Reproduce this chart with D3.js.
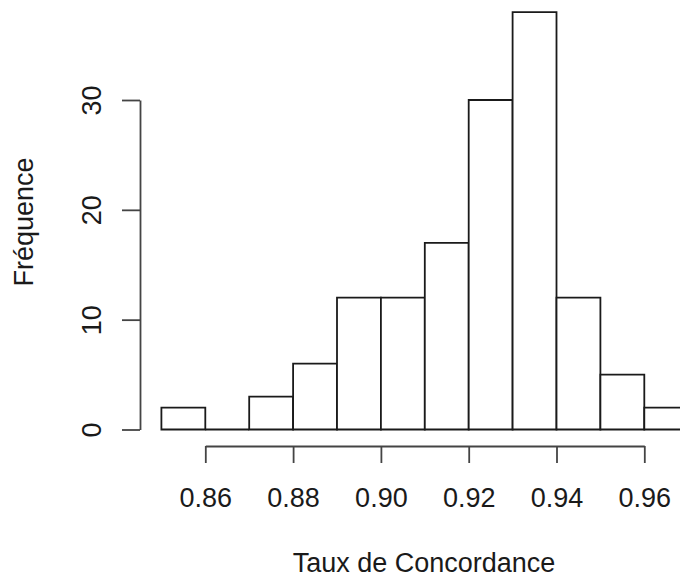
<!DOCTYPE html>
<html lang="fr">
<head>
    <meta charset="UTF-8">
    <title>Histogramme</title>
    <script src="https://d3js.org/d3.v7.min.js"></script>
    <style>
        body { margin: 0; background: #fff; }
        text { font-family: "Liberation Sans", Arial, Helvetica, sans-serif; fill: #1a1a1a; }
    </style>
</head>
<body>
    <div id="graph"></div>
    <script>
        // bornes des classes et effectifs
        const binEdges = [0.85, 0.86, 0.87, 0.88, 0.89, 0.90, 0.91, 0.92, 0.93, 0.94, 0.95, 0.96, 0.97];
        const counts = [2, 0, 3, 6, 12, 12, 17, 30, 38, 12, 5, 2];
        const xTicks = [0.86, 0.88, 0.90, 0.92, 0.94, 0.96];
        const yTicks = [0, 10, 20, 30];
        const xTitle = "Taux de Concordance";
        const yTitle = "Fréquence";

        const width = 680, height = 578;
        const fontSize = "27px";

        const svg = d3.select("#graph")
            .append("svg")
            .attr("width", width)
            .attr("height", height);

        const x = d3.scaleLinear().domain([0.86, 0.96]).range([205.3, 644.3]);
        const y = d3.scaleLinear().domain([0, 30]).range([429.5, 100]);

        const bins = counts.map((c, i) => ({ x0: binEdges[i], x1: binEdges[i + 1], n: c }));

        // barres (path pour que la classe vide laisse un trait)
        svg.selectAll(".bar")
            .data(bins)
            .join("path")
            .attr("class", "bar")
            .attr("d", d => `M${x(d.x0)},${y(0)}V${y(d.n)}H${x(d.x1)}V${y(0)}Z`)
            .attr("fill", "#fff")
            .attr("stroke", "#1a1a1a")
            .attr("stroke-width", 1.8);

        // axe X, décalé sous les barres comme dans R
        const xAxis = svg.append("g")
            .attr("transform", "translate(0,446)")
            .call(d3.axisBottom(x.copy().domain([xTicks[0], xTicks[xTicks.length - 1]])
                    .range([x(xTicks[0]), x(xTicks[xTicks.length - 1])]))
                .tickValues(xTicks)
                .tickSize(17)
                .tickSizeOuter(0)
                .tickFormat(d3.format(".2f")));
        xAxis.selectAll("text")
            .attr("y", 61)
            .attr("dy", null)
            .style("font-size", fontSize);

        // axe Y
        const yAxis = svg.append("g")
            .attr("transform", "translate(140,0)")
            .call(d3.axisLeft(y)
                .tickValues(yTicks)
                .tickSize(18)
                .tickSizeOuter(0)
                .tickFormat(d3.format("d")));
        yAxis.selectAll("text")
            .attr("x", null)
            .attr("dy", null)
            .attr("text-anchor", "middle")
            .attr("transform", "translate(-39,0) rotate(-90)")
            .style("font-size", fontSize);

        svg.selectAll(".domain, .tick line")
            .attr("stroke", "#444")
            .attr("stroke-width", 1.8);
        svg.selectAll(".tick text").attr("fill", "#1a1a1a");

        // titres
        svg.append("text")
            .attr("x", 424)
            .attr("y", 572)
            .attr("text-anchor", "middle")
            .style("font-size", fontSize)
            .text(xTitle);

        svg.append("text")
            .attr("transform", "translate(33,222) rotate(-90)")
            .attr("text-anchor", "middle")
            .style("font-size", fontSize)
            .text(yTitle);
    </script>
</body>
</html>
